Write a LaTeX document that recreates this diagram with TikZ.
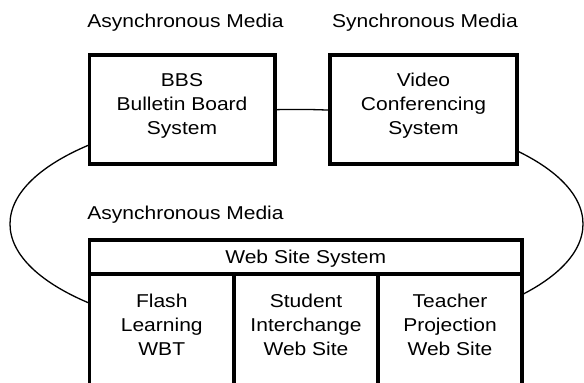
\documentclass[tikz,border=0pt]{standalone}
\usepackage{fontspec}
\setmainfont{Liberation Sans}[FakeStretch=1.13]
\begin{document}
\begin{tikzpicture}[x=1pt,y=-1pt,
  box/.style={draw, line width=3.4pt, fill=white, rectangle, inner sep=0pt},
  lbl/.style={font=\fontsize{18.6}{24}\selectfont, align=center, inner sep=0pt},
  ring/.style={line width=1.3pt}]
\useasboundingbox (0,0) rectangle (584,383);
\clip (0,0) rectangle (584,383);
\draw[ring] (296.5,224) ellipse [x radius=286.5, y radius=114.6];
% upper boxes
\node[box, minimum width=185.5pt, minimum height=109pt] (bbs) at (182.25,109.5) {};
\node[box, minimum width=187pt, minimum height=109pt] (video) at (423.5,109.5) {};
% web site system
\node[box, minimum width=432.5pt, minimum height=34pt] (web) at (305.75,257) {};
\node[box, minimum width=144.5pt, minimum height=126pt] (flash) at (161.75,337) {};
\node[box, minimum width=144pt, minimum height=126pt] (student) at (306,337) {};
\node[box, minimum width=144pt, minimum height=126pt] (teacher) at (450,337) {};
% labels
\node[lbl, anchor=base] (lab1) at (185.5,27) {Asynchronous Media};
\node[lbl, anchor=base] (lab2) at (425,27) {Synchronous Media};
\node[lbl, anchor=base] (lab3) at (185.5,219) {Asynchronous Media};
\node[lbl, anchor=base] (webt) at (305.75,263) {Web Site System};
\node[lbl, anchor=base] (bbst) at (182,134) {BBS\\Bulletin Board\\System};
\node[lbl, anchor=base] (videot) at (423.5,134) {Video\\Conferencing\\System};
\node[lbl, anchor=base] (flasht) at (161.75,355) {Flash\\Learning\\WBT};
\node[lbl, anchor=base] (studentt) at (306,355) {Student\\Interchange\\Web Site};
\node[lbl, anchor=base] (teachert) at (450,355) {Teacher\\Projection\\Web Site};
\end{tikzpicture}
\end{document}
